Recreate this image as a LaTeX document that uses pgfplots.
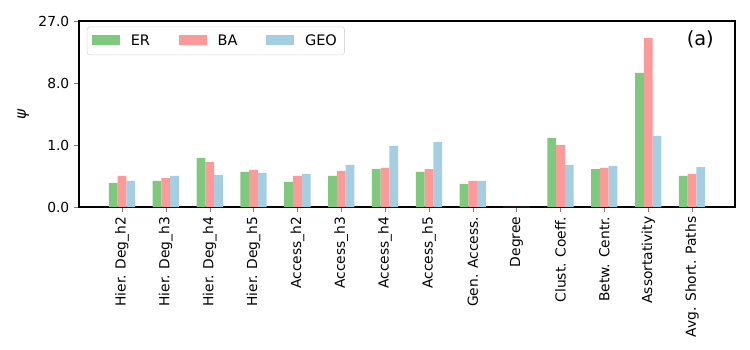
\documentclass[border=0pt]{standalone}
\usepackage{fontspec}
\setmainfont{DejaVu Sans}
\usepackage{pgfplots}
\pgfplotsset{compat=1.18}
\definecolor{erc}{HTML}{7FC97F}
\definecolor{bac}{HTML}{FB9A99}
\definecolor{geoc}{HTML}{A6CEE3}
\begin{document}
\begin{tikzpicture}
\begin{axis}[scale only axis,width=6.56in,height=1.86in,
  ybar,bar width=0.2,
  xmin=-0.98,xmax=13.98,ymin=0,ymax=27,
  % cube-root y scale: ticks 0,1,8,27 equally spaced
  y coord trafo/.code={\pgfmathparse{(#1+1e-9)^(1/3)}},
  ytick={0,1,8,27},yticklabels={0.0,1.0,8.0,27.0},
  xtick={0,...,13},
  xticklabels={Hier. Deg\_h2,Hier. Deg\_h3,Hier. Deg\_h4,Hier. Deg\_h5,Access\_h2,Access\_h3,Access\_h4,Access\_h5,Gen. Access.,Degree,Clust. Coeff.,Betw. Centr.,Assortativity,Avg. Short. Paths},
  xticklabel style={rotate=90,anchor=east,font=\fontsize{10}{12}\selectfont},
  yticklabel style={font=\fontsize{10}{12}\selectfont},
  tick pos=left,tick align=outside,major tick length=3.5pt,
  ylabel={\itshape ψ},ylabel style={font=\fontsize{11}{12}\selectfont},
  axis line style={line width=0.8pt},
  legend columns=3,
  legend style={at={(0.012,0.97)},anchor=north west,draw=black!15,rounded corners=2pt,font=\fontsize{10.5}{12}\selectfont,
    /tikz/every odd column/.append style={column sep=0.08in},
    /tikz/every even column/.append style={column sep=0.26in},inner sep=3.5pt},
  legend image code/.code={\fill[#1,sharp corners] (0in,-0.045in) rectangle (0.28in,0.055in);},
]
\addplot[fill=erc,draw=none,bar shift=-0.2] coordinates {(0,0.058) (1,0.074) (2,0.494) (3,0.180) (4,0.066) (5,0.125) (6,0.230) (7,0.180) (8,0.051) (9,0) (10,1.378) (11,0.230) (12,10.1) (13,0.125)};
\addlegendentry{ER}
\addplot[fill=bac,draw=none,bar shift=0] coordinates {(0,0.125) (1,0.102) (2,0.382) (3,0.213) (4,0.125) (5,0.196) (6,0.249) (7,0.230) (8,0.074) (9,0) (10,1.0) (11,0.249) (12,20.25) (13,0.151)};
\addlegendentry{BA}
\addplot[fill=geoc,draw=none,bar shift=0.2] coordinates {(0,0.074) (1,0.125) (2,0.137) (3,0.165) (4,0.151) (5,0.311) (6,0.952) (7,1.152) (8,0.074) (9,0) (10,0.311) (11,0.289) (12,1.502) (13,0.268)};
\addlegendentry{GEO}
\node[font=\fontsize{14}{16}\selectfont] at (rel axis cs:0.947,0.903) {(a)};
\coordinate (ll) at (rel axis cs:0,0);
\coordinate (ur) at (rel axis cs:1,1);
\end{axis}
\path ([shift={(-0.79in,-1.43in)}]ll) rectangle ([shift={(0.15in,0.21in)}]ur);
\end{tikzpicture}
\end{document}
